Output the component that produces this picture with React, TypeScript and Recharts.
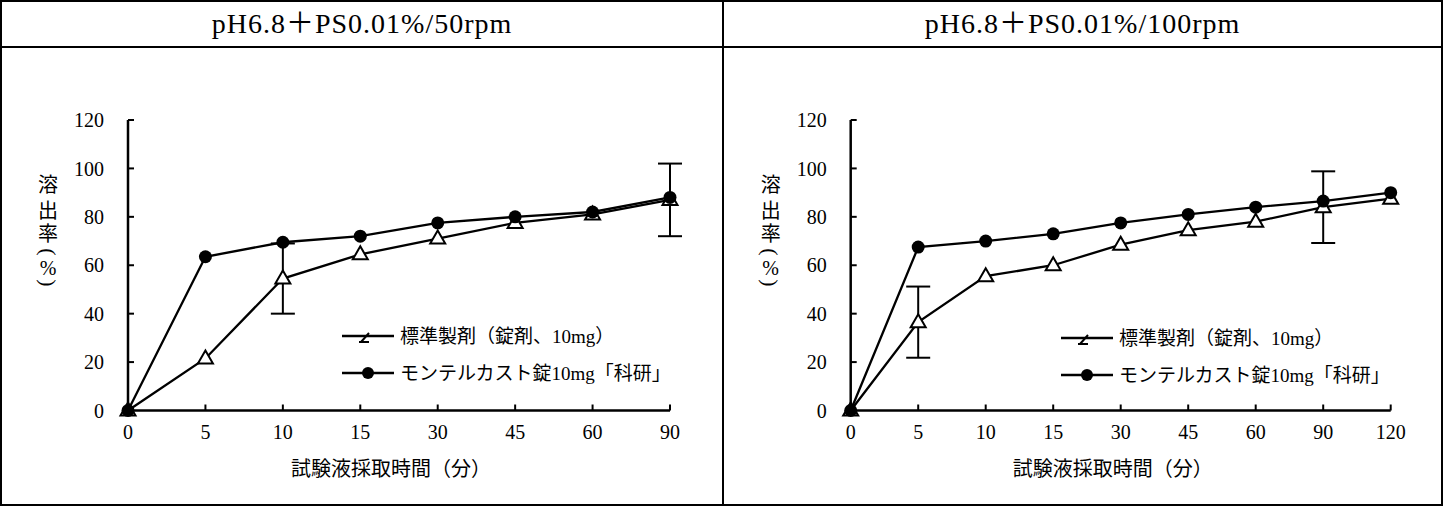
import React from "react";
import { LineChart, Line, XAxis, YAxis, ErrorBar, Legend, Label } from "recharts";

// 50rpm
const times50 = ["0", "5", "10", "15", "30", "45", "60", "90"];
const std50 = [0, 21.5, 54.5, 64.5, 71, 77.5, 81, 87];
const stdErr50 = [null, null, 14.5, null, null, null, null, 15];
const kaken50 = [0, 63.5, 69.5, 72, 77.5, 80, 82, 88];

// 100rpm
const times100 = ["0", "5", "10", "15", "30", "45", "60", "90", "120"];
const std100 = [0, 36.5, 55.5, 60, 68.5, 74.5, 78, 84, 87.5];
const stdErr100 = [null, 14.7, null, null, null, null, null, 14.8, null];
const kaken100 = [0, 67.5, 70, 73, 77.5, 81, 84, 86.5, 90];

const yTicks = [0, 20, 40, 60, 80, 100, 120];
const seriesKeys = ["std", "kaken"];
const seriesNames = ["標準製剤（錠剤、10mg）", "モンテルカスト錠10mg「科研」"];
const titles = ["pH6.8＋PS0.01%/50rpm", "pH6.8＋PS0.01%/100rpm"];
const xTitle = "試験液採取時間（分）";
// vertical axis title, one glyph per row; the parens get turned sideways
const yTitle = ["溶", "出", "率", "(", "%", ")"];

const SERIF = "'Liberation Serif', 'Noto Sans CJK JP', serif";

const build = (t: string[], s: number[], e: (number | null)[], k: number[]) =>
  t.map((time, i) => ({ time, std: s[i], err: e[i], kaken: k[i] }));

const TriDot = (p: any) => {
  const { cx, cy, index } = p;
  if (cx == null || cy == null) return <g key={index} />;
  return (
    <path
      key={index}
      d={`M${cx},${cy - 8} L${cx + 7.5},${cy + 5} L${cx - 7.5},${cy + 5} Z`}
      fill="#fff"
      stroke="#000"
      strokeWidth={2}
    />
  );
};

const LegendBox = ({ payload }: any) => {
  const items = [...(payload || [])].sort(
    (a: any, b: any) => seriesKeys.indexOf(a.dataKey) - seriesKeys.indexOf(b.dataKey)
  );
  return (
    <svg width={320} height={62} style={{ display: "block", overflow: "visible" }}>
      {items.map((p: any, i: number) => {
        const y = 12 + i * 37;
        return (
          <g key={p.dataKey}>
            <line x1={0} x2={52} y1={y} y2={y} stroke="#000" strokeWidth={2.3} />
            {p.dataKey === "kaken" ? (
              <circle cx={26} cy={y} r={6} fill="#000" />
            ) : (
              <path d={`M17,${y + 6} L27,${y + 6} M19,${y + 6} L27,${y - 3}`} stroke="#000" strokeWidth={2} fill="none" />
            )}
            <text x={58} y={y} dominantBaseline="central" fontSize={19} fontFamily={SERIF} fill="#000">
              {p.value}
            </text>
          </g>
        );
      })}
    </svg>
  );
};

const XTitle = (props: any) => {
  const vb = props.viewBox || {};
  return (
    <text
      x={vb.x + vb.width / 2 - 8}
      y={vb.y + 58}
      textAnchor="middle"
      dominantBaseline="central"
      fontSize={20}
      fontFamily={SERIF}
      fill="#000"
    >
      {xTitle}
    </text>
  );
};

const YTitle = (props: any) => {
  const vb = props.viewBox || {};
  const px = vb.x + vb.width - 80;
  const offs = [65, 91, 114, 132, 148, 163];
  return (
    <g>
      {yTitle.map((c, i) => {
        const y = vb.y + offs[i];
        const sideways = c === "(" || c === ")";
        return (
          <text
            key={i}
            x={px}
            y={y}
            textAnchor="middle"
            dominantBaseline="central"
            fontSize={sideways ? 22 : 20}
            fontFamily={SERIF}
            fill="#000"
            transform={sideways ? `rotate(90 ${px} ${y})` : undefined}
          >
            {c}
          </text>
        );
      })}
    </g>
  );
};

interface PanelProps {
  data: any[];
  width: number;
  ml: number;
  mr: number;
  legendLeft: number;
  legendTop: number;
}

function Panel({ data, width, ml, mr, legendLeft, legendTop }: PanelProps) {
  return (
    <LineChart width={width} height={456} data={data} margin={{ top: 72, right: mr, left: ml, bottom: 53.5 }}>
      <XAxis
        dataKey="time"
        interval={0}
        height={40}
        tickSize={-6}
        tickMargin={20}
        tick={{ fontSize: 20, fill: "#000", fontFamily: SERIF }}
        axisLine={{ stroke: "#000", strokeWidth: 2.5 }}
        tickLine={{ stroke: "#000", strokeWidth: 2 }}
      >
        <Label content={XTitle} />
      </XAxis>
      <YAxis
        width={40}
        domain={[0, 120]}
        ticks={yTicks}
        interval={0}
        tickSize={-6}
        tickMargin={30}
        tick={{ fontSize: 20, fill: "#000", fontFamily: SERIF }}
        axisLine={{ stroke: "#000", strokeWidth: 2.5 }}
        tickLine={{ stroke: "#000", strokeWidth: 2 }}
      >
        <Label content={YTitle} />
      </YAxis>
      <Legend
        layout="vertical"
        align="center"
        verticalAlign="middle"
        content={LegendBox}
        wrapperStyle={{ left: legendLeft, top: legendTop, width: 320, height: 62 }}
      />
      <Line
        dataKey="std"
        name={seriesNames[0]}
        stroke="#000"
        strokeWidth={2.3}
        dot={TriDot}
        activeDot={false}
        isAnimationActive={false}
      >
        <ErrorBar dataKey="err" width={12} stroke="#000" strokeWidth={2} direction="y" />
      </Line>
      <Line
        dataKey="kaken"
        name={seriesNames[1]}
        stroke="#000"
        strokeWidth={2.3}
        dot={{ r: 6.5, fill: "#000", stroke: "#000", strokeWidth: 0 }}
        activeDot={false}
        isAnimationActive={false}
      />
    </LineChart>
  );
}

const titleStyle: React.CSSProperties = {
  position: "absolute",
  top: 2,
  height: 44,
  lineHeight: "44px",
  textAlign: "center",
  fontSize: 28,
  letterSpacing: 1,
  fontFamily: SERIF,
  color: "#000",
};

export default function App() {
  const data50 = build(times50, std50, stdErr50, kaken50);
  const data100 = build(times100, std100, stdErr100, kaken100);
  return (
    <div style={{ position: "absolute", left: 0, top: 0, width: 1450, height: 506, background: "#fff" }}>
      <div
        style={{
          position: "absolute",
          left: 0,
          top: 0,
          width: 1443,
          height: 506,
          border: "2px solid #000",
          boxSizing: "border-box",
        }}
      />
      <div style={{ position: "absolute", left: 0, top: 46, width: 1443, height: 2, background: "#000" }} />
      <div style={{ position: "absolute", left: 722, top: 0, width: 2, height: 506, background: "#000" }} />
      <div style={{ ...titleStyle, left: 2, width: 720 }}>{titles[0]}</div>
      <div style={{ ...titleStyle, left: 724, width: 717 }}>{titles[1]}</div>
      <div style={{ position: "absolute", left: 0, top: 48 }}>
        <Panel data={data50} width={722} ml={88} mr={52} legendLeft={342} legendTop={276} />
      </div>
      <div style={{ position: "absolute", left: 724, top: 48 }}>
        <Panel data={data100} width={717} ml={86.7} mr={50.3} legendLeft={337} legendTop={278} />
      </div>
    </div>
  );
}
